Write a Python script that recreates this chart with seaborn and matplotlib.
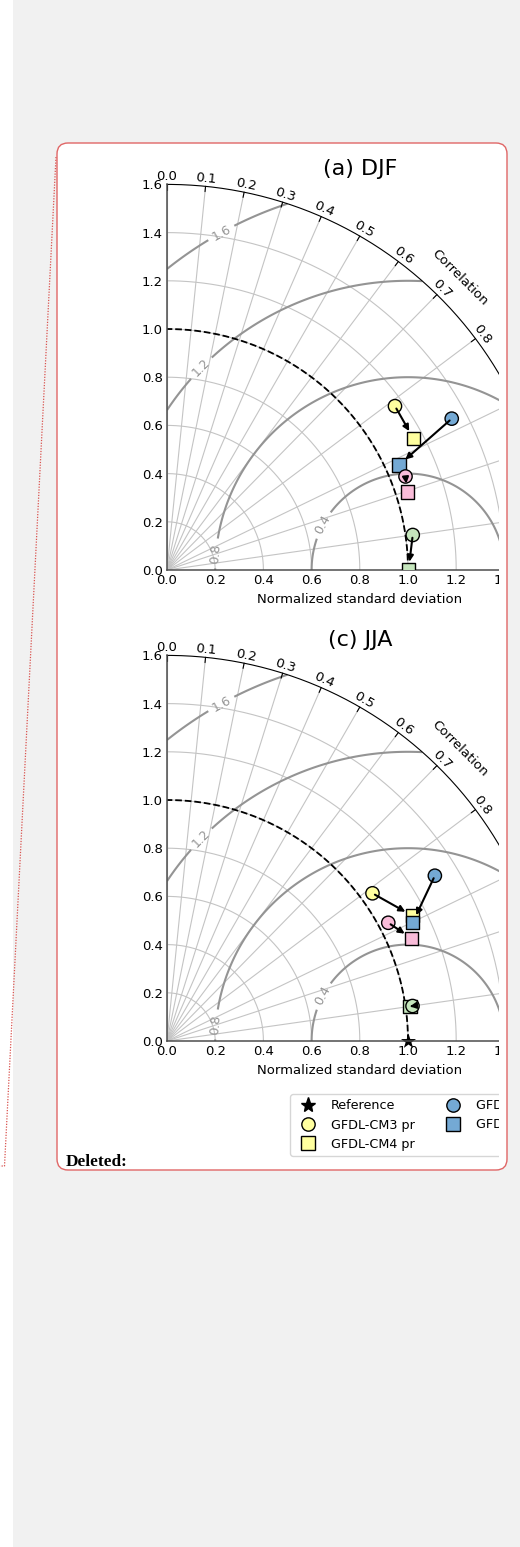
import numpy as np
import pandas as pd
import matplotlib
matplotlib.use("Agg")
import matplotlib.pyplot as plt
import seaborn as sns
from matplotlib.patches import FancyBboxPatch, Rectangle
from matplotlib.lines import Line2D

# ---------------- data ----------------
groups = ["pr", "tas", "psl", "uas"]
group_colors = ["#ffff9f", "#74a9d4", "#f9bcd9", "#c5e6bd"]
cm3_labels = ["GFDL-CM3 pr", "GFDL-CM3 tas", "GFDL-CM3 psl", "GFDL-CM3 uas"]
cm4_labels = ["GFDL-CM4 pr", "GFDL-CM4 tas", "GFDL-CM4 psl", "GFDL-CM4 uas"]

# normalized standard deviation and correlation
djf_std_cm3 = [1.165, 1.338, 1.063, 1.030]
djf_cor_cm3 = [0.812, 0.883, 0.931, 0.990]
djf_std_cm4 = [1.159, 1.057, 1.048, 1.002]
djf_cor_cm4 = [0.882, 0.911, 0.951, 1.000]

jja_std_cm3 = [1.050, 1.306, 1.041, 1.029]
jja_cor_cm3 = [0.812, 0.851, 0.882, 0.990]
jja_std_cm4 = [1.144, 1.131, 1.101, 1.018]
jja_cor_cm4 = [0.891, 0.901, 0.922, 0.990]

ref_std = 1.0
panel_titles = ["(a) DJF", "(c) JJA"]
std_ticks = [0.0, 0.2, 0.4, 0.6, 0.8, 1.0, 1.2, 1.4, 1.6]
corr_ticks = [0.0, 0.1, 0.2, 0.3, 0.4, 0.5, 0.6, 0.7, 0.8, 0.9, 0.95, 0.99]
rms_levels = [0.4, 0.8, 1.2, 1.6]
SMAX = 1.6

# ---------------- style ----------------
sns.set_style("white", rc={"text.color": "black", "axes.labelcolor": "black",
                           "xtick.color": "black", "ytick.color": "black"})
plt.rcParams["font.family"] = ["DejaVu Sans"]

W, H = 520, 1547
fig = plt.figure(figsize=(W / 100, H / 100), dpi=100)
fig.patch.set_facecolor("#f1f1f1")

# background layer (pixel coordinates)
bg = fig.add_axes([0, 0, 1, 1], zorder=-5)
bg.set_xlim(0, W); bg.set_ylim(H, 0); bg.axis("off")
bg.add_patch(Rectangle((0, 0), 13, H, facecolor="white", edgecolor="none"))
BOX_L, BOX_T, BOX_R, BOX_B, RAD = 57, 143, 507, 1170, 11
bg.add_patch(FancyBboxPatch((BOX_L + RAD, BOX_T + RAD), BOX_R - BOX_L - 2 * RAD,
                            BOX_B - BOX_T - 2 * RAD, boxstyle=f"round,pad={RAD}",
                            facecolor="white", edgecolor="none"))
bg.plot([56, 4.5, 0], [157, 1166, 1166], color="#d9534f", ls=(0, (1, 1.2)), lw=0.9)

# visible limit of the clipped balloon, in data units of the Taylor axes
VIS_X = (498 - 167) / 241.0


def to_xy(std, cor):
    std = np.asarray(std, float); cor = np.asarray(cor, float)
    return std * cor, std * np.sqrt(np.clip(1 - cor ** 2, 0, None))


def taylor(ax, title, s3, c3, s4, c4, show_ref, label_pos):
    ax.set_facecolor("none")
    ax.set_xlim(0, SMAX); ax.set_ylim(0, SMAX)
    ax.set_aspect("equal")
    for s in ["top", "right"]:
        ax.spines[s].set_visible(False)
    for s in ["left", "bottom"]:
        ax.spines[s].set_color("0.3"); ax.spines[s].set_linewidth(1.1)
    xt = [v for v in std_ticks if v < VIS_X + 0.1]
    ax.set_xticks(xt); ax.set_yticks(std_ticks)
    ax.set_xticklabels([f"{v:.1f}" for v in xt])
    ax.set_yticklabels([f"{v:.1f}" for v in std_ticks])
    ax.tick_params(direction="in", length=4, width=0.8, labelsize=9.5, pad=3)

    t = np.linspace(0, np.pi / 2, 300)
    for r in std_ticks[1:-1]:
        ax.plot(r * np.cos(t), r * np.sin(t), color="#c4c4c4", lw=0.8, zorder=1)
    for c in corr_ticks:
        th = np.arccos(c)
        ax.plot([0, SMAX * np.cos(th)], [0, SMAX * np.sin(th)], color="#c4c4c4", lw=0.8, zorder=1)
        ax.plot([SMAX * np.cos(th), (SMAX - 0.022) * np.cos(th)],
                [SMAX * np.sin(th), (SMAX - 0.022) * np.sin(th)], color="k", lw=0.8, zorder=2)
        lab = f"{c:.1f}" if abs(c * 10 - round(c * 10)) < 1e-9 else f"{c:.2f}"
        rl = SMAX + 0.033
        if rl * np.cos(th) < VIS_X:
            ax.text(rl * np.cos(th), rl * np.sin(th), lab, rotation=np.degrees(th) - 90,
                    rotation_mode="anchor", ha="center", va="center", fontsize=9.5, clip_on=False)
    ax.plot(SMAX * np.cos(t), SMAX * np.sin(t), color="k", lw=0.8, clip_on=False, zorder=2)
    rc = SMAX + 0.116
    ax.text(rc * np.cos(np.pi / 4), rc * np.sin(np.pi / 4), "Correlation", rotation=-45,
            rotation_mode="anchor", ha="center", va="center", fontsize=9.5, clip_on=False)

    # centred RMS difference contours
    g = np.linspace(0, SMAX, 600)
    X, Y = np.meshgrid(g, g)
    RMS = np.hypot(X - ref_std, Y)
    RMS[np.hypot(X, Y) > SMAX] = np.nan
    cs = ax.contour(X, Y, RMS, levels=rms_levels, colors="0.58", linewidths=1.5, zorder=1.5)
    ax.clabel(cs, inline=True, fontsize=9, fmt="%.1f", manual=label_pos)

    # reference std arc
    ax.plot(ref_std * np.cos(t), ref_std * np.sin(t), "k--", lw=1.3, zorder=2)

    x3, y3 = to_xy(s3, c3)
    x4, y4 = to_xy(s4, c4)
    pal = dict(zip(groups, group_colors))
    if show_ref:
        sns.scatterplot(x=[ref_std], y=[0.0], marker="*", color="k", s=130, linewidth=0,
                        legend=False, ax=ax, zorder=2.5, clip_on=False)
    sns.scatterplot(x=x4, y=y4, hue=groups, palette=pal, marker="s", s=92,
                    edgecolor="k", linewidth=1, legend=False, ax=ax, zorder=3)
    sns.scatterplot(x=x3, y=y3, hue=groups, palette=pal, marker="o", s=92,
                    edgecolor="k", linewidth=1, legend=False, ax=ax, zorder=4)
    for i in range(len(groups)):
        ax.annotate("", xy=(x4[i], y4[i]), xytext=(x3[i], y3[i]), zorder=5,
                    arrowprops=dict(arrowstyle="-|>", color="k", lw=1.5,
                                    shrinkA=2, shrinkB=6, mutation_scale=9))
    ax.set_title(title, fontsize=16, pad=7)
    ax.set_xlabel("Normalized standard deviation", fontsize=9.5, labelpad=4)
    ax.set_ylabel("")


AX = 385.6
ax1 = fig.add_axes([167 / W, (H - 570) / H, AX / W, AX / H])
ax2 = fig.add_axes([167 / W, (H - 1041) / H, AX / W, AX / H])
lp = [(0.23, 1.39), (0.14, 0.84), (0.19, 0.07), (0.64, 0.19)]
taylor(ax1, panel_titles[0], djf_std_cm3, djf_cor_cm3, djf_std_cm4, djf_cor_cm4, False, lp)
taylor(ax2, panel_titles[1], jja_std_cm3, jja_cor_cm3, jja_std_cm4, jja_cor_cm4, True, lp)

handles = [Line2D([], [], marker="*", color="k", ls="none", markersize=11, label="Reference")]
for col, l3, l4 in zip(group_colors, cm3_labels, cm4_labels):
    handles.append(Line2D([], [], marker="o", mfc=col, mec="k", mew=1, ms=9.6, ls="none", label=l3))
    handles.append(Line2D([], [], marker="s", mfc=col, mec="k", mew=1, ms=9.6, ls="none", label=l4))
ax2.legend(handles=handles, loc="upper left", bbox_to_anchor=(290 / W, 1 - 1094 / H),
           bbox_transform=fig.transFigure, ncol=4, fontsize=9.2, borderaxespad=0,
           frameon=True, framealpha=0.8, edgecolor="0.8", fancybox=True)

# foreground layer: clipping of the comment balloon
fg = fig.add_axes([0, 0, 1, 1], zorder=10)
fg.set_xlim(0, W); fg.set_ylim(H, 0); fg.axis("off"); fg.patch.set_alpha(0)
fg.add_patch(Rectangle((498.5, BOX_T + RAD), BOX_R - 498.5, BOX_B - BOX_T - 2 * RAD,
                       facecolor="white", edgecolor="none"))
fg.add_patch(Rectangle((BOX_R, 0), W - BOX_R, H, facecolor="#f1f1f1", edgecolor="none"))
fg.add_patch(FancyBboxPatch((BOX_L + RAD, BOX_T + RAD), BOX_R - BOX_L - 2 * RAD,
                            BOX_B - BOX_T - 2 * RAD, boxstyle=f"round,pad={RAD}",
                            facecolor="none", edgecolor="#e06666", lw=1.0))
fg.text(66, 1166, "Deleted:", family=["Liberation Serif"], weight="bold", fontsize=12.4,
        va="baseline", ha="left")

fig.savefig("out.png", dpi=100, facecolor=fig.get_facecolor())
